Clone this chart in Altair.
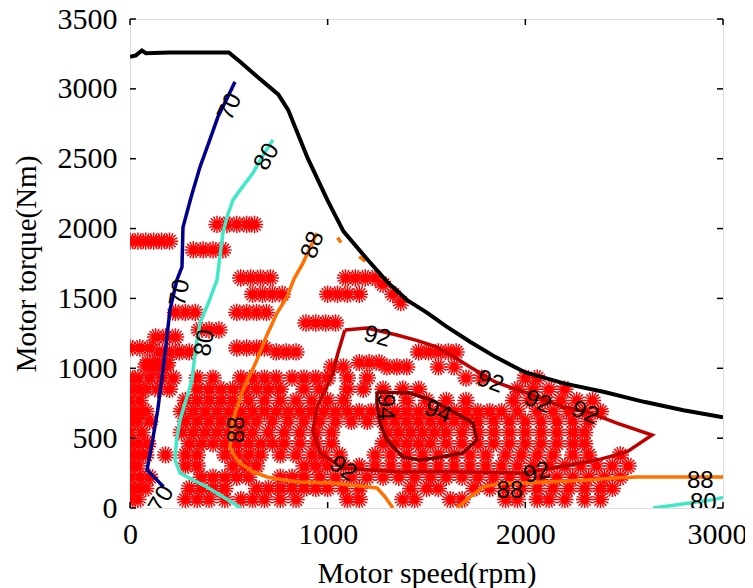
import altair as alt
import pandas as pd

# ---------------- data ----------------
env_speed = [0, 30, 60, 80, 200, 350, 500, 560, 650, 750, 800, 900, 1000, 1080, 1200, 1300, 1400, 1500, 1600, 1720, 1850, 2000, 2200, 2400, 2600, 2800, 3000]
env_torque = [3230, 3240, 3275, 3255, 3260, 3260, 3260, 3190, 3080, 2960, 2850, 2500, 2200, 1980, 1780, 1620, 1490, 1400, 1300, 1190, 1080, 970, 890, 830, 760, 700, 650]

c70_speed = [531, 490, 445, 400, 354, 310, 268, 263, 237, 202, 185, 167, 140, 110, 86, 130, 170]
c70_torque = [3050, 2930, 2800, 2620, 2440, 2230, 2010, 1725, 1632, 1417, 1200, 988, 700, 450, 272, 210, 150]

c80a_speed = [723, 680, 622, 570, 521, 490, 470, 455, 440, 400, 354, 330, 314, 285, 253, 235, 228, 253, 320, 389, 460, 521, 560]
c80a_torque = [2634, 2540, 2398, 2300, 2205, 2080, 1968, 1800, 1632, 1480, 1324, 1120, 916, 780, 630, 480, 344, 251, 200, 150, 90, 36, 0]
c80b_speed = [2646, 2750, 2850, 2950, 3000]
c80b_torque = [0, 20, 40, 60, 75]

c88a_speed = [946, 910, 875, 830, 794, 744, 690, 642, 572, 521, 506, 530, 556, 620, 693, 780, 860, 1027, 1150, 1250, 1290, 1330]
c88a_torque = [1968, 1860, 1753, 1640, 1510, 1396, 1230, 1059, 845, 630, 437, 370, 322, 260, 222, 200, 186, 179, 160, 143, 80, 0]
c88b_speed = [1653, 1720, 1786, 1887, 2008, 2150, 2312, 2450, 2565, 2800, 3000]
c88b_torque = [0, 80, 150, 179, 179, 190, 200, 215, 222, 222, 222]
c88c_speed = [1050, 1068]
c88c_torque = [1935, 1900]
c88d_speed = [1160, 1190]
c88d_torque = [1800, 1765]

c92_speed = [1087, 1199, 1350, 1450, 1553, 1640, 1720, 1850, 2008, 2190, 2312, 2463, 2641, 2514, 2380, 2226, 1988, 1720, 1500, 1381, 1214, 1077, 961, 926, 946, 990, 1027, 1050, 1087]
c92_torque = [1274, 1288, 1238, 1200, 1152, 1080, 1009, 900, 823, 723, 690, 608, 522, 401, 350, 308, 251, 258, 262, 258, 272, 286, 394, 558, 723, 850, 966, 1100, 1274]

c94_speed = [1250, 1416, 1530, 1619, 1735, 1755, 1685, 1553, 1467, 1381, 1300, 1265, 1249, 1250]
c94_torque = [830, 823, 770, 702, 609, 487, 394, 360, 344, 365, 487, 609, 750, 830]

lab_text = ["70", "70", "70", "80", "80", "80", "88", "88", "88", "88", "92", "92", "92", "92", "92", "92", "94", "94"]
lab_speed = [506, 253, 160, 693, 379, 2900, 926, 541, 1922, 2885, 1250, 1822, 2064, 2302, 1077, 2059, 1290, 1558]
lab_torque = [2870, 1540, 60, 2513, 1181, 35, 1882, 560, 125, 190, 1225, 902, 759, 680, 280, 251, 723, 687]
lab_angle = [295, 280, 300, 300, 280, 0, 290, 270, 0, 0, 15, 20, 22, 22, 35, 345, 90, 22]

# operating points (rows of equal torque)
pt_rows = {
    60: [0, 40, 280, 340, 400, 480, 560, 620, 680, 760, 840, 1100, 1160, 1380, 1440, 1620, 1680, 1900, 1960, 2060, 2120, 2200, 2300, 2380],
    140: [0, 40, 80, 300, 360, 420, 480, 640, 700, 760, 820, 880, 940, 1000, 1080, 1160, 1420, 1500, 1560, 1740, 1820, 1900, 1980, 2060, 2140, 2220, 2300, 2380, 2440],
    220: [0, 50, 100, 360, 420, 480, 540, 600, 760, 820, 880, 960, 1040, 1120, 1200, 1280, 1360, 1440, 1520, 1600, 1680, 1760, 1840, 1920, 2000, 2080, 2160, 2240, 2320, 2400, 2480],
    300: [0, 40, 280, 340, 520, 580, 640, 880, 940, 1000, 1080, 1160, 1240, 1320, 1400, 1480, 1560, 1640, 1720, 1800, 1880, 1960, 2040, 2120, 2200, 2280, 2360, 2440, 2520],
    380: [0, 40, 80, 180, 280, 340, 480, 540, 600, 660, 760, 840, 920, 980, 1060, 1240, 1320, 1400, 1480, 1560, 1640, 1720, 1800, 1900, 1980, 2060, 2140, 2240, 2320, 2480],
    460: [0, 40, 90, 300, 360, 420, 480, 540, 600, 660, 720, 780, 860, 940, 1020, 1280, 1340, 1400, 1460, 1520, 1600, 1680, 1760, 1840, 1920, 2000, 2080, 2160, 2240, 2300],
    540: [0, 60, 260, 320, 380, 440, 500, 560, 620, 700, 780, 860, 940, 1020, 1300, 1360, 1420, 1480, 1540, 1600, 1680, 1760, 1840, 1920, 2000, 2080, 2160, 2240, 2300],
    620: [0, 40, 100, 280, 340, 400, 460, 520, 580, 640, 720, 800, 880, 960, 1040, 1120, 1200, 1280, 1340, 1400, 1460, 1520, 1580, 1640, 1700, 1760, 1840, 1920, 2000, 2080, 2160, 2240, 2320],
    690: [0, 40, 80, 260, 320, 380, 440, 500, 560, 620, 680, 740, 800, 860, 920, 980, 1040, 1100, 1160, 1220, 1280, 1340, 1400, 1460, 1520, 1580, 1640, 1700, 1760, 1820, 1880, 1960, 2060, 2140, 2220, 2300, 2380],
    770: [0, 50, 280, 340, 400, 460, 520, 600, 680, 760, 840, 920, 1000, 1080, 1300, 1400, 1500, 1600, 1700, 1940, 2020, 2100, 2180, 2260, 2340],
    850: [0, 40, 80, 140, 200, 340, 400, 460, 520, 580, 640, 700, 760, 880, 960, 1100, 1180, 1280, 1380, 1460, 1960, 2040, 2120, 2200],
    930: [0, 40, 100, 160, 220, 340, 420, 560, 620, 680, 740, 820, 880, 940, 1000, 1100, 1200, 1700, 1780, 2000, 2060],
    1010: [80, 130, 180, 1020, 1080, 1300, 1350, 1400, 1560, 1640],
    1040: [90, 140, 190, 1160, 1210, 1260],
    1117: [150, 200, 250, 300, 740, 790, 840, 1460, 1510, 1560, 1610, 1650],
    1145: [0, 50, 100, 540, 590, 640, 680],
    1224: [130, 180, 230],
    1274: [350, 400, 450],
    1324: [890, 940, 990, 1040],
    1400: [230, 280, 330, 540, 590, 640, 690],
    1470: [1370],
    1530: [620, 670, 720, 770, 1000, 1050, 1100, 1160, 1330],
    1600: [1280],
    1646: [560, 610, 660, 710, 1090, 1140, 1190, 1240],
    1847: [320, 370, 420, 470],
    1910: [0, 40, 80, 120, 160, 200],
    2030: [440, 490, 540, 590, 630],
}

x_ticks = [0, 1000, 2000, 3000]
y_ticks = [0, 500, 1000, 1500, 2000, 2500, 3000, 3500]

# ---------------- tables ----------------
pts = pd.DataFrame([(x, y) for y, xs in pt_rows.items() for x in xs], columns=["speed", "torque"])
env = pd.DataFrame({"speed": env_speed, "torque": env_torque, "o": range(len(env_speed))})

segs = [
    ("70", "a", c70_speed, c70_torque),
    ("80", "a", c80a_speed, c80a_torque),
    ("80", "b", c80b_speed, c80b_torque),
    ("88", "a", c88a_speed, c88a_torque),
    ("88", "b", c88b_speed, c88b_torque),
    ("88", "c", c88c_speed, c88c_torque),
    ("88", "d", c88d_speed, c88d_torque),
    ("92", "a", c92_speed, c92_torque),
    ("94", "a", c94_speed, c94_torque),
]
rows = []
for lvl, s, xs_, ys_ in segs:
    for i, (x, y) in enumerate(zip(xs_, ys_)):
        rows.append({"level": lvl, "seg": lvl + s, "speed": x, "torque": y, "o": i})
cont = pd.DataFrame(rows)
labs = pd.DataFrame({"t": lab_text, "speed": lab_speed, "torque": lab_torque, "ang": lab_angle})

xs = alt.Scale(domain=[0, 3000], nice=False, zero=False)
ys = alt.Scale(domain=[0, 3500], nice=False, zero=False)

X = alt.X("speed:Q", scale=xs, axis=alt.Axis(
    values=x_ticks, format="d", title="Motor speed(rpm)", grid=False, domain=False, ticks=False,
    labelFlush=False, labelOverlap=False, labelPadding=11, labelFont="Liberation Serif",
    labelFontSize=30, labelColor="black",
    labelOffset={"condition": {"test": "datum.value == 3000", "value": -6}, "value": 0},
    titleFont="Liberation Serif", titleFontSize=30,
    titleFontWeight="normal", titleColor="black", titleY=74, titleBaseline="alphabetic"))
Y = alt.Y("torque:Q", scale=ys, axis=alt.Axis(
    values=y_ticks, format="d", title="Motor torque(Nm)", grid=False, domain=False, ticks=False,
    labelFlush=False, labelOverlap=False, labelPadding=13, labelFont="Liberation Serif",
    labelFontSize=30, labelColor="black", titleFont="Liberation Serif", titleFontSize=29,
    titleFontWeight="normal", titleColor="black", titleX=-104, titleBaseline="middle"))

asterisk = ("M-1,0L1,0M0,-1L0,1M-0.7,-0.7L0.7,0.7M-0.7,0.7L0.7,-0.7"
            "M-0.92,-0.38L0.92,0.38M-0.92,0.38L0.92,-0.38M-0.38,-0.92L0.38,0.92M-0.38,0.92L0.38,-0.92")

scatter = alt.Chart(pts).mark_point(shape=asterisk, filled=False, color="#ff0000",
                                    strokeWidth=1.5, size=300, opacity=1, clip=True).encode(x=X, y=Y)

envelope = alt.Chart(env).mark_line(color="black", strokeWidth=4, clip=True).encode(
    x=alt.X("speed:Q", scale=xs), y=alt.Y("torque:Q", scale=ys), order="o:Q")

contours = alt.Chart(cont).mark_line(strokeWidth=3.5, clip=True).encode(
    x=alt.X("speed:Q", scale=xs), y=alt.Y("torque:Q", scale=ys), order="o:Q",
    detail="seg:N",
    color=alt.Color("level:N", scale=alt.Scale(domain=["70", "80", "88", "92", "94"],
                    range=["#00008b", "#40e8c8", "#ff7000", "#c00000", "#7a0000"]), legend=None))

labels = alt.Chart(labs).mark_text(font="Liberation Sans", fontSize=24, color="black",
                                   align="center", baseline="middle", clip=True).encode(
    x=alt.X("speed:Q", scale=xs), y=alt.Y("torque:Q", scale=ys), text="t:N",
    angle=alt.Angle("ang:Q", scale=None))

xt = pd.DataFrame({"speed": x_ticks})
yt = pd.DataFrame({"torque": y_ticks})
tick_bottom = alt.Chart(xt).mark_rule(color="black", strokeWidth=1.5).encode(
    x=alt.X("speed:Q", scale=xs), y=alt.value(489), y2=alt.value(483))
tick_top = alt.Chart(xt).mark_rule(color="black", strokeWidth=1.5).encode(
    x=alt.X("speed:Q", scale=xs), y=alt.value(0), y2=alt.value(6))
tick_left = alt.Chart(yt).mark_rule(color="black", strokeWidth=1.5).encode(
    y=alt.Y("torque:Q", scale=ys), x=alt.value(0), x2=alt.value(6))
tick_right = alt.Chart(yt).mark_rule(color="black", strokeWidth=1.5).encode(
    y=alt.Y("torque:Q", scale=ys), x=alt.value(593), x2=alt.value(587))

chart = alt.layer(scatter, contours, envelope, labels, tick_bottom, tick_top, tick_left, tick_right).properties(
    width=593, height=489,
    autosize=alt.AutoSizeParams(type="none"),
    padding={"left": 122, "top": 11, "right": 22, "bottom": 80},
).configure_view(stroke="black", strokeWidth=1.5).configure(background="white")

chart.save("out.html", embed_options={"renderer": "svg", "actions": False})
